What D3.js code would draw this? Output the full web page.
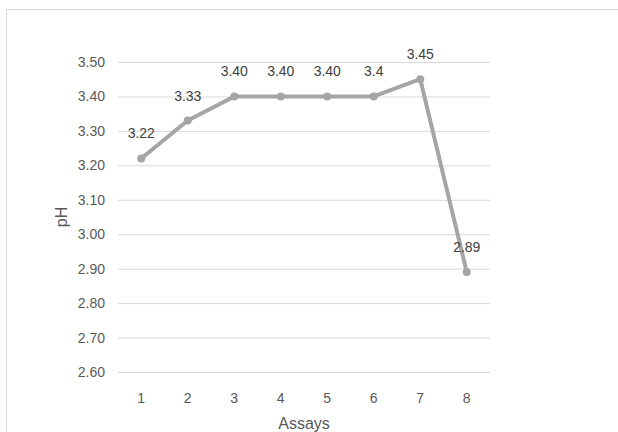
<!DOCTYPE html>
<html><head><meta charset="utf-8">
<script src="https://cdnjs.cloudflare.com/ajax/libs/d3/7.8.5/d3.min.js"></script>
<style>body{margin:0;background:#fff}svg{display:block}</style>
</head><body>
<script>
const categories = ["1","2","3","4","5","6","7","8"];
const values = [3.22, 3.33, 3.40, 3.40, 3.40, 3.40, 3.45, 2.89];
const dataLabels = ["3.22","3.33","3.40","3.40","3.40","3.4","3.45","2.89"];
const yTicks = [2.6, 2.7, 2.8, 2.9, 3.0, 3.1, 3.2, 3.3, 3.4, 3.5];

(function(){
const W = 618, H = 432;
const svg = d3.select("body").append("svg").attr("width", W).attr("height", H);
const font = "'Liberation Sans', Arial, sans-serif";

svg.append("rect").attr("x", 6.5).attr("y", 9.5).attr("width", 640).attr("height", 440)
  .attr("fill", "#fff").attr("stroke", "#d9d9d9");

const mL = 118, mR = 490, mT = 62, mB = 372;
const x = d3.scaleBand().domain(categories).range([mL, mR]);
const y = d3.scaleLinear().domain([2.6, 3.5]).range([mB, mT]);

const yAxis = d3.axisLeft(y).tickValues(yTicks).tickFormat(d3.format(".2f"))
  .tickSize(-(mR - mL)).tickPadding(13);
const gy = svg.append("g").attr("transform", `translate(${mL},0)`).call(yAxis);
gy.select(".domain").remove();
gy.selectAll(".tick line").attr("stroke", "#d9d9d9");
gy.selectAll(".tick text").attr("fill", "#595959").style("font-family", font).style("font-size", "14px");

const xAxis = d3.axisBottom(x).tickSize(0).tickPadding(21);
const gx = svg.append("g").attr("transform", `translate(0,${mB})`).call(xAxis);
gx.select(".domain").remove();
gx.selectAll(".tick text").attr("fill", "#595959").style("font-family", font).style("font-size", "14px");

svg.append("text").attr("x", (mL + mR) / 2).attr("y", 429).attr("text-anchor", "middle")
  .attr("fill", "#595959").style("font-family", font).style("font-size", "16px").text("Assays");
svg.append("text").attr("transform", `translate(67,${(mT + mB) / 2}) rotate(-90)`)
  .attr("text-anchor", "middle").attr("fill", "#595959").style("font-family", font)
  .style("font-size", "16px").text("pH");

const cx = (d, i) => x(categories[i]) + x.bandwidth() / 2;
const line = d3.line().x((d, i) => cx(d, i)).y(d => y(d));
svg.append("path").datum(values).attr("d", line).attr("fill", "none")
  .attr("stroke", "#a5a5a5").attr("stroke-width", 4).attr("stroke-linejoin", "round");

svg.selectAll("circle.pt").data(values).enter().append("circle")
  .attr("cx", cx).attr("cy", d => y(d)).attr("r", 4).attr("fill", "#a5a5a5");

svg.selectAll("text.lbl").data(values).enter().append("text")
  .attr("x", cx).attr("y", d => y(d) - 20).attr("text-anchor", "middle")
  .attr("fill", "#404040").style("font-family", font).style("font-size", "14px")
  .text((d, i) => dataLabels[i]);
})();
</script>
</body></html>
